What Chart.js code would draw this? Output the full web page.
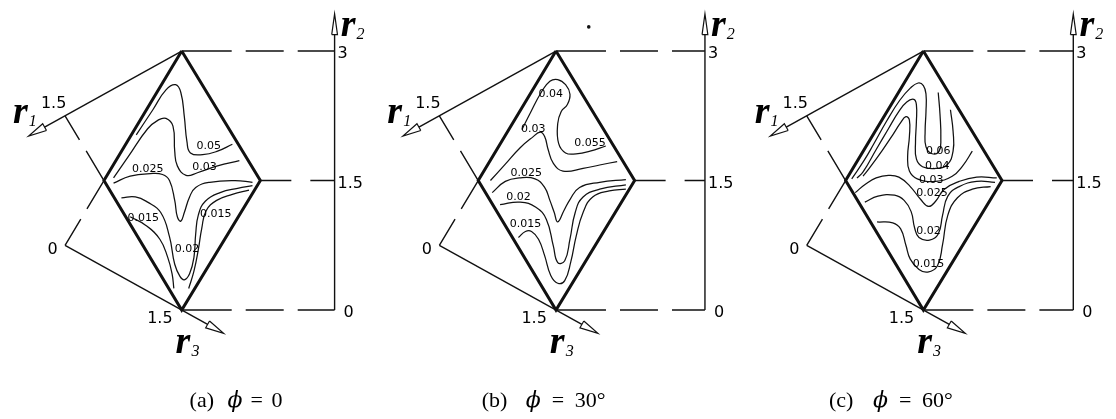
<!DOCTYPE html>
<html>
<head>
<meta charset="utf-8">
<script src="https://cdn.jsdelivr.net/npm/chart.js@4.4.1/dist/chart.umd.min.js"></script>
<style>
  html, body { margin: 0; padding: 0; background: #fff; }
  canvas { display: block; }
</style>
</head>
<body>
<canvas id="chart" width="1116" height="419"></canvas>
<script>
// Diagram units: v is the r2 coordinate (0..3), u is horizontal in the same units,
// origin at the bottom vertex of each rhombus.

// Horizontal offset of each panel and position of its r2 axis
const panelOffset = [0, 4.284, 8.489];
const r2AxisU = [1.75, 1.705, 1.716];

// Rhombus outline (r2 from 0 to 3)
const rhombus = [[0, 3], [-0.89, 1.5], [0, 0], [0.90, 1.5], [0, 3]];

// r2 ticks
const r2Ticks = [3, 1.5, 0];
const r2TickLabels = ['3', '1.5', '0'];

// Panel captions
const captionTags = ['(a)', '(b)', '(c)'];
const phiValues = ['0', '30°', '60°'];

// Contour lines, panel (a) phi = 0
const contoursA = [
  [[-0.52,2.03],[-0.33,2.32],[-0.18,2.55],[-0.07,2.61],[-0.01,2.52],[0.03,2.24],[0.06,1.95],[0.10,1.82],[0.24,1.80],[0.41,1.84],[0.58,1.92]],
  [[-0.78,1.53],[-0.61,1.78],[-0.39,2.10],[-0.27,2.20],[-0.18,2.22],[-0.10,2.13],[-0.08,1.84],[-0.05,1.67],[0.05,1.56],[0.18,1.59],[0.41,1.67],[0.66,1.73]],
  [[-0.78,1.47],[-0.59,1.55],[-0.36,1.58],[-0.22,1.57],[-0.14,1.50],[-0.08,1.27],[-0.05,1.08],[-0.01,1.03],[0.03,1.13],[0.09,1.31],[0.16,1.42],[0.32,1.48],[0.61,1.50],[0.81,1.48]],
  [[-0.69,1.30],[-0.53,1.31],[-0.39,1.25],[-0.24,1.13],[-0.14,0.85],[-0.08,0.53],[-0.02,0.39],[0.03,0.35],[0.09,0.42],[0.14,0.61],[0.16,0.88],[0.19,1.10],[0.27,1.26],[0.44,1.36],[0.64,1.41],[0.81,1.44]],
  [[-0.59,1.08],[-0.41,0.98],[-0.25,0.82],[-0.16,0.61],[-0.11,0.42],[-0.09,0.25]],
  [[0.08,0.25],[0.14,0.45],[0.19,0.70],[0.23,0.95],[0.28,1.15],[0.40,1.27],[0.58,1.34],[0.77,1.39]]
];
const labelsA = [['0.05',0.31,1.90],['0.03',0.26,1.66],['0.025',-0.39,1.63],['0.015',-0.44,1.06],['0.015',0.39,1.11],['0.02',0.06,0.70]];

// Contour lines, panel (b) phi = 30°
const contoursB = [
  [[-0.39,2.09],[-0.30,2.27],[-0.17,2.52],[-0.07,2.65],[0.02,2.67],[0.11,2.61],[0.16,2.50],[0.13,2.38],[0.06,2.30],[0.02,2.16],[0.03,1.93],[0.11,1.82],[0.23,1.81],[0.39,1.84],[0.57,1.90]],
  [[-0.75,1.50],[-0.58,1.69],[-0.41,1.88],[-0.27,2.00],[-0.18,2.06],[-0.13,2.01],[-0.09,1.86],[-0.03,1.70],[0.08,1.61],[0.31,1.64],[0.50,1.68],[0.70,1.72]],
  [[-0.73,1.36],[-0.58,1.49],[-0.42,1.53],[-0.24,1.52],[-0.13,1.42],[-0.07,1.27],[-0.02,1.13],[0.02,1.02],[0.09,1.15],[0.16,1.28],[0.27,1.42],[0.50,1.48],[0.80,1.51]],
  [[-0.64,1.22],[-0.41,1.25],[-0.23,1.19],[-0.11,1.05],[-0.03,0.74],[0.02,0.55],[0.10,0.57],[0.16,0.82],[0.22,1.13],[0.31,1.31],[0.50,1.40],[0.80,1.45]],
  [[-0.43,0.84],[-0.35,0.91],[-0.28,0.91],[-0.20,0.82],[-0.13,0.63],[-0.06,0.40],[0.02,0.31],[0.10,0.34],[0.17,0.56],[0.23,0.85],[0.31,1.13],[0.42,1.31],[0.61,1.38],[0.80,1.40]]
];
const labelsB = [['0.04',-0.06,2.50],['0.03',-0.26,2.10],['0.055',0.39,1.93],['0.025',-0.34,1.58],['0.02',-0.43,1.31],['0.015',-0.35,0.99]];

// Contour lines, panel (c) phi = 60°
const contoursC = [
  [[-0.82,1.52],[-0.68,1.73],[-0.57,1.92],[-0.42,2.19],[-0.27,2.43],[-0.15,2.57],[-0.06,2.63],[0.00,2.60],[0.03,2.50],[0.03,2.30],[0.02,2.07],[0.03,1.89],[0.10,1.81],[0.18,1.84],[0.20,1.98],[0.19,2.27],[0.17,2.52]],
  [[-0.76,1.53],[-0.69,1.60],[-0.54,1.86],[-0.40,2.10],[-0.28,2.30],[-0.19,2.41],[-0.11,2.44],[-0.08,2.38],[-0.08,2.18],[-0.09,1.95],[-0.08,1.75],[-0.01,1.66],[0.14,1.64],[0.27,1.68],[0.34,1.84],[0.34,2.07],[0.31,2.32]],
  [[-0.69,1.55],[-0.62,1.64],[-0.47,1.85],[-0.35,2.03],[-0.26,2.17],[-0.20,2.24],[-0.16,2.20],[-0.16,2.01],[-0.18,1.78],[-0.16,1.61],[-0.07,1.52],[0.14,1.49],[0.33,1.55],[0.45,1.67],[0.56,1.84]],
  [[-0.78,1.36],[-0.66,1.46],[-0.54,1.53],[-0.40,1.56],[-0.28,1.54],[-0.15,1.43],[-0.03,1.28],[0.06,1.20],[0.14,1.26],[0.24,1.40],[0.41,1.49],[0.61,1.54],[0.84,1.53]],
  [[-0.67,1.25],[-0.52,1.32],[-0.33,1.33],[-0.22,1.27],[-0.14,1.14],[-0.10,0.95],[-0.05,0.84],[0.07,0.81],[0.17,0.88],[0.22,1.10],[0.28,1.32],[0.41,1.43],[0.61,1.49],[0.82,1.48]],
  [[-0.53,1.02],[-0.35,1.01],[-0.26,0.94],[-0.20,0.75],[-0.15,0.59],[-0.05,0.47],[0.05,0.44],[0.16,0.51],[0.22,0.76],[0.28,1.10],[0.39,1.30],[0.56,1.40],[0.77,1.43]]
];
const labelsC = [['0.06',0.17,1.84],['0.04',0.16,1.67],['0.03',0.09,1.50],['0.025',0.10,1.35],['0.02',0.06,0.91],['0.015',0.06,0.53]];

const contours = [contoursA, contoursB, contoursC];
const contourLabels = [labelsA, labelsB, labelsC];

// Small speck above panel (b)
const specks = [[1, 0.375, 3.28]];

// ---------------------------------------------------------------
const INK = '#111';
const X_MIN = -2.034, X_MAX = 10.648, Y_MIN = -1.216, Y_MAX = 3.545;

const add = (a, b) => [a[0] + b[0], a[1] + b[1]];
const sub = (a, b) => [a[0] - b[0], a[1] - b[1]];
const mul = (a, k) => [a[0] * k, a[1] * k];
const unit = (a) => { const l = Math.hypot(a[0], a[1]); return [a[0] / l, a[1] / l]; };

function line(points, off, opts) {
  return Object.assign({
    data: points.map(p => ({ x: p[0] + off, y: p[1] })),
    showLine: true,
    borderColor: INK,
    backgroundColor: INK,
    borderWidth: 1.3,
    pointRadius: 0,
    tension: 0,
    fill: false,
    borderCapStyle: 'butt',
    borderJoinStyle: 'round'
  }, opts || {});
}

// Open triangular arrow head: returns outline and the base centre
function arrowHead(tip, dir, len, halfW) {
  const d = unit(dir);
  const n = [-d[1], d[0]];
  const base = sub(tip, mul(d, len));
  return { outline: [add(base, mul(n, halfW)), tip, sub(base, mul(n, halfW)), add(base, mul(n, halfW))], base };
}

const datasets = [];
const T = rhombus[0], L = rhombus[1], B = rhombus[2], R = rhombus[3];
// oblique r1 / r3 construction
const O = add(L, mul(sub(L, T), 0.5));      // r1 = 0 corner
const P = add(L, mul(sub(L, B), 0.5));      // r1 = 1.5 tick
const r1Dir = sub(P, T);
const r3Dir = sub(B, O);

panelOffset.forEach((off, p) => {
  // contour curves
  contours[p].forEach(c => datasets.push(line(c, off, { tension: 0.45, borderWidth: 1.25 })));
  // rhombus
  datasets.push(line(rhombus, off, { borderWidth: 3, borderJoinStyle: 'miter' }));

  const ax = r2AxisU[p];
  // dashed leaders to the r2 axis
  const longDash = [50, 14, 38, 14, 80];
  datasets.push(line([T, [ax, 3]], off, { borderDash: longDash, borderWidth: 1.4 }));
  datasets.push(line([R, [ax, 1.5]], off, { borderDash: [31, 19, 60], borderWidth: 1.4 }));
  datasets.push(line([B, [ax, 0]], off, { borderDash: longDash, borderWidth: 1.4 }));
  // dashed construction lines on the left
  datasets.push(line([P, L], off, { borderDash: [28, 13, 60], borderWidth: 1.4 }));
  datasets.push(line([L, O], off, { borderDash: [33, 12, 60], borderWidth: 1.4 }));

  // r2 axis with arrow
  const a2 = arrowHead([ax, 3.43], [0, 1], 0.24, 0.033);
  datasets.push(line([[ax, 0], a2.base], off, { borderWidth: 1.4 }));
  datasets.push(line(a2.outline, off, { borderWidth: 1.2, borderJoinStyle: 'miter' }));

  // r1 axis with arrow
  const tip1 = add(T, mul(unit(r1Dir), 2.01));
  const a1 = arrowHead(tip1, r1Dir, 0.21, 0.045);
  datasets.push(line([T, a1.base], off, { borderWidth: 1.4 }));
  datasets.push(line(a1.outline, off, { borderWidth: 1.2, borderJoinStyle: 'miter' }));

  // r3 axis with arrow
  const tip3 = add(B, mul(unit(r3Dir), 0.55));
  const a3 = arrowHead(tip3, r3Dir, 0.21, 0.045);
  datasets.push(line([O, a3.base], off, { borderWidth: 1.4 }));
  datasets.push(line(a3.outline, off, { borderWidth: 1.2, borderJoinStyle: 'miter' }));
});

// speck
specks.forEach(s => datasets.push({
  data: [{ x: s[1] + panelOffset[s[0]], y: s[2] }],
  showLine: false, pointRadius: 1.8, pointBackgroundColor: INK, pointBorderWidth: 0
}));

// ---------------------------------------------------------------
// Text: contour levels, axis numbers, axis names and captions
const textPlugin = {
  id: 'diagramText',
  afterDatasetsDraw(chart) {
    const { ctx, scales: { x, y } } = chart;
    const px = (u, off) => x.getPixelForValue(u + off);
    const py = (v) => y.getPixelForValue(v);
    ctx.save();
    ctx.fillStyle = '#000';

    panelOffset.forEach((off, p) => {
      // contour levels
      ctx.font = '11px "DejaVu Sans"';
      ctx.textAlign = 'center';
      ctx.textBaseline = 'middle';
      contourLabels[p].forEach(([t, u, v]) => ctx.fillText(t, px(u, off), py(v)));

      // r2 tick numbers
      ctx.font = '16px "DejaVu Sans"';
      ctx.textAlign = 'left';
      const ax = r2AxisU[p];
      r2Ticks.forEach((v, i) => {
        const dx = r2TickLabels[i] === '0' ? 9 : 3;
        ctx.fillText(r2TickLabels[i], px(ax, off) + dx, py(v) + 3);
      });

      // r1 / r3 scale numbers
      ctx.textAlign = 'center';
      ctx.fillText('1.5', px(-1.466, off), py(2.386));
      ctx.fillText('0', px(-1.477, off), py(0.693));
      ctx.fillText('1.5', px(-0.25, off), py(-0.10));

      // axis names
      ctx.textAlign = 'left';
      ctx.textBaseline = 'alphabetic';
      const axisName = (u, v, sub) => {
        ctx.font = 'bold italic 38px "Liberation Serif"';
        ctx.fillText('r', px(u, off), py(v));
        const w = ctx.measureText('r').width;
        ctx.font = 'italic 16px "Liberation Serif"';
        ctx.fillText(sub, px(u, off) + w + 1, py(v) + 3);
      };
      axisName(-1.93, 2.17, '1');
      axisName(ax + 0.07, 3.17, '2');
      axisName(-0.07, -0.50, '3');

      // caption: "(x)  ϕ = value"
      const capX = [0.09, -0.85, -1.08][p];
      const gaps = p === 0 ? [38, 61, 82] : [44, 70, 93];
      const x0 = px(capX, off);
      const cy = py(-1.125);
      ctx.font = '22px "Liberation Serif"';
      ctx.fillText(captionTags[p], x0, cy);
      ctx.font = 'italic 22px "DejaVu Serif"';
      ctx.fillText('\u03D5', x0 + gaps[0], cy);
      ctx.font = '22px "Liberation Serif"';
      ctx.fillText('=', x0 + gaps[1], cy);
      ctx.fillText(phiValues[p], x0 + gaps[2], cy);
    });
    ctx.restore();
  }
};

new Chart(document.getElementById('chart'), {
  type: 'scatter',
  data: { datasets },
  options: {
    responsive: false,
    animation: false,
    events: [],
    layout: { padding: 0 },
    plugins: { legend: { display: false }, tooltip: { enabled: false } },
    scales: {
      x: { type: 'linear', min: X_MIN, max: X_MAX, display: false },
      y: { type: 'linear', min: Y_MIN, max: Y_MAX, display: false }
    }
  },
  plugins: [textPlugin]
});
</script>
</body>
</html>
